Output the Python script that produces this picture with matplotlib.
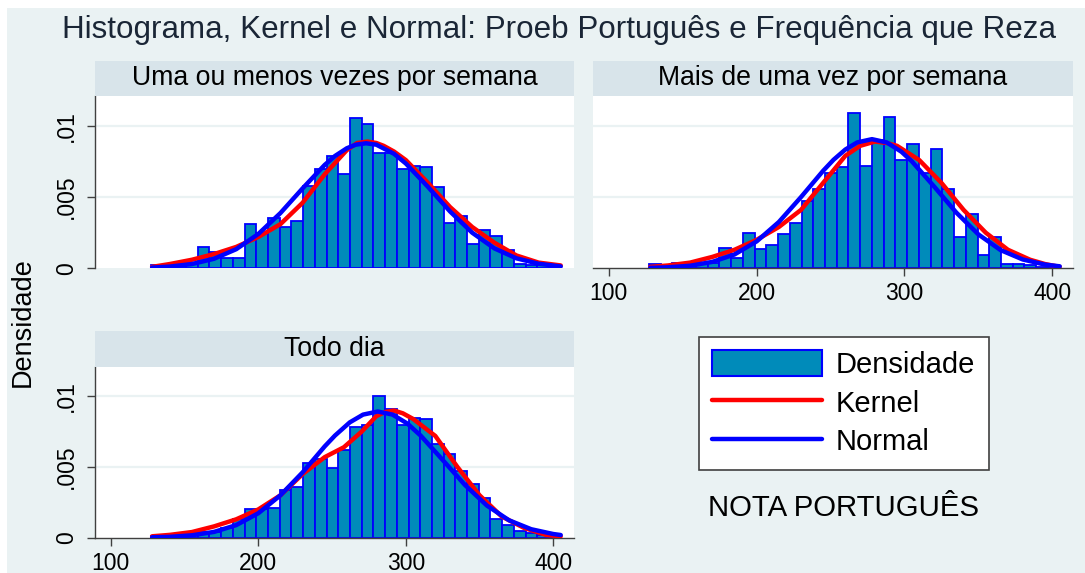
import numpy as np
import matplotlib
matplotlib.use("Agg")
import matplotlib.pyplot as plt
from matplotlib.patches import Patch, Rectangle
from matplotlib.lines import Line2D

plt.rcParams["font.family"] = ["Liberation Sans", "DejaVu Sans"]

# histogram: 35 bins spanning the data range
bin_lo, bin_hi = 127.2, 405.0

dens_uma = [0.0002, 0.0003, 0.0003, 0.0004, 0.00152, 0.00117, 0.00075, 0.00075,
            0.0031, 0.00246, 0.0035, 0.0029, 0.0033, 0.0058, 0.0070, 0.0079,
            0.0066, 0.01054, 0.0101, 0.0081, 0.0081, 0.0070, 0.0072, 0.0071,
            0.0057, 0.0032, 0.0037, 0.0017, 0.0027, 0.0023, 0.0013, 0.0003,
            0.0002, 0.0002, 0.0001]
dens_mais = [0.0003, 0.0001, 0.0004, 0.0003, 0.0003, 0.0004, 0.00144, 0.0007,
             0.00247, 0.00136, 0.00165, 0.00242, 0.0032, 0.0047, 0.0056, 0.0067,
             0.0071, 0.0109, 0.0072, 0.0090, 0.01066, 0.0076, 0.0087, 0.0067,
             0.0084, 0.0056, 0.0022, 0.0038, 0.0009, 0.0022, 0.0003, 0.0003,
             0.0002, 0.0001, 0.0001]
dens_todo = [0.0001, 0.0002, 0.0002, 0.0003, 0.0004, 0.0004, 0.0007, 0.0013,
             0.0020, 0.0020, 0.0021, 0.0034, 0.0036, 0.0053, 0.0056, 0.0049,
             0.0062, 0.0078, 0.0080, 0.0100, 0.0091, 0.0080, 0.0085, 0.0084,
             0.0066, 0.0059, 0.0047, 0.0038, 0.0028, 0.0013, 0.0009, 0.0005,
             0.0003, 0.0002, 0.0001]

# kernel and normal curves
kx_uma = [128, 140, 155, 170, 185, 200, 215, 230, 245, 260, 267, 274, 280, 285, 292, 300,
          315, 330, 345, 360, 375, 390, 405]
ky_uma = [0.0001, 0.0003, 0.0006, 0.0010, 0.0015, 0.0022, 0.0031, 0.0046, 0.0066, 0.0083,
          0.0088, 0.0089, 0.0088, 0.0086, 0.0082, 0.0076, 0.0060, 0.0043, 0.0029, 0.0018,
          0.0009, 0.0004, 0.0002]
nx_uma = [128, 140, 155, 170, 185, 200, 215, 230, 245, 252, 260, 266, 273, 280, 292, 300,
          315, 330, 345, 360, 375, 390, 405]
ny_uma = [0.00005, 0.00012, 0.0003, 0.00067, 0.00134, 0.00241, 0.00388, 0.00561, 0.00726,
          0.00789, 0.00843, 0.00868, 0.00878, 0.00868, 0.00804, 0.00736, 0.00572, 0.00399,
          0.0025, 0.0014, 0.0007, 0.00032, 0.00013]

kx_mais = [128, 140, 155, 170, 185, 200, 215, 230, 245, 260, 270, 280, 288, 295, 310, 325,
           340, 355, 370, 385, 395, 405]
ky_mais = [0.0001, 0.0002, 0.0004, 0.0008, 0.0013, 0.0020, 0.0029, 0.0041, 0.0060, 0.0079,
           0.0086, 0.0089, 0.0088, 0.0086, 0.0076, 0.0060, 0.0041, 0.0025, 0.0013, 0.0006,
           0.0003, 0.0001]
nx_mais = [128, 140, 155, 170, 185, 200, 215, 230, 245, 252, 260, 268, 278, 288, 298, 305,
           320, 335, 350, 365, 380, 395, 405]
ny_mais = [0.00003, 0.00007, 0.00018, 0.00045, 0.00097, 0.00189, 0.00325, 0.005, 0.00685,
           0.00762, 0.00834, 0.00884, 0.00907, 0.00884, 0.00818, 0.00751, 0.00575, 0.00392,
           0.00238, 0.00128, 0.00062, 0.00026, 0.00014]

kx_todo = [128, 140, 155, 170, 185, 200, 215, 230, 245, 258, 270, 280, 286, 292, 298, 305,
           320, 335, 350, 365, 380, 395, 405]
ky_todo = [0.0001, 0.0002, 0.0004, 0.0008, 0.0013, 0.0020, 0.0030, 0.0045, 0.0057, 0.0064,
           0.0075, 0.0086, 0.0089, 0.0090, 0.0088, 0.0084, 0.0072, 0.0050, 0.0030, 0.0015,
           0.0007, 0.0002, 0.0001]
nx_todo = [128, 140, 155, 170, 185, 200, 215, 230, 245, 252, 262, 271, 281, 291, 301, 310,
           325, 340, 355, 370, 385, 400, 405]
ny_todo = [0.00003, 0.00006, 0.00017, 0.00041, 0.00089, 0.00173, 0.003, 0.00462, 0.00646,
           0.00723, 0.00816, 0.00871, 0.00893, 0.00871, 0.00808, 0.00723, 0.0055, 0.00374,
           0.00227, 0.00123, 0.0006, 0.00026, 0.00019]

panel_titles = ["Uma ou menos vezes por semana", "Mais de uma vez por semana", "Todo dia"]
xticks = [100, 200, 300, 400]
xticklabels = ["100", "200", "300", "400"]
yticks = [0, 0.005, 0.01]
yticklabels = ["0", ".005", ".01"]

BG = "#eaf2f3"
STRIP = "#d8e4ea"
BAR = "#008bba"
W, H = 1085, 573


def px_rect(x0, y0, x1, y1):
    return [x0 / W, 1 - y1 / H, (x1 - x0) / W, (y1 - y0) / H]


fig = plt.figure(figsize=(W / 100, H / 100), dpi=100, facecolor="white")
fig.patches.append(Rectangle((7 / W, 0), 1 - 7 / W, 1 - 8 / H, transform=fig.transFigure,
                             facecolor=BG, edgecolor="none", zorder=-10))

panels = [
    (dens_uma, kx_uma, ky_uma, nx_uma, ny_uma, (95, 96, 574, 268.3), True, False),
    (dens_mais, kx_mais, ky_mais, nx_mais, ny_mais, (593, 96, 1073, 268.3), False, True),
    (dens_todo, kx_todo, ky_todo, nx_todo, ny_todo, (95, 366.7, 574, 537.7), True, True),
]

for i, (dens, kx, ky, nx, ny, box, show_y, show_x) in enumerate(panels):
    x0, y0, x1, y1 = box
    ax = fig.add_axes(px_rect(x0, y0, x1, y1))
    ax.set_facecolor("white")
    edges = np.linspace(bin_lo, bin_hi, len(dens) + 1)
    ax.bar(edges[:-1], dens, width=np.diff(edges), align="edge", color=BAR,
           edgecolor="#0000ff", linewidth=1.3, zorder=2)
    ax.plot(kx, ky, color="#ff0000", lw=3.2, solid_capstyle="round", solid_joinstyle="round", zorder=3)
    ax.plot(nx, ny, color="#0000ff", lw=3.2, solid_capstyle="round", solid_joinstyle="round", zorder=4)
    ax.set_xlim(89.3, 414)
    ax.set_ylim(0, 0.0121)
    for yv in yticks[1:]:
        ax.axhline(yv, color=BG, lw=1.6, zorder=1)
    for s in ["top", "right"]:
        ax.spines[s].set_visible(False)
    ax.spines["left"].set_visible(show_y)
    ax.spines["bottom"].set_visible(show_x)
    for s in ["left", "bottom"]:
        ax.spines[s].set_color("#404040")
        ax.spines[s].set_linewidth(1.0)
    if show_y:
        ax.set_yticks(yticks)
        ax.set_yticklabels(yticklabels, rotation=90, va="center", fontsize=16.5)
        ax.tick_params(axis="y", length=6, width=1, color="#404040", pad=6)
    else:
        ax.set_yticks([])
    if show_x:
        ax.set_xticks(xticks)
        ax.set_xticklabels(xticklabels, fontsize=16.5)
        ax.tick_params(axis="x", length=6, width=1, color="#404040", pad=4)
    else:
        ax.set_xticks([])

    # strip with the group name
    sax = fig.add_axes(px_rect(x0, y0 - 35.3, x1, y0))
    sax.set_facecolor(STRIP)
    sax.set_xticks([])
    sax.set_yticks([])
    for s in sax.spines.values():
        s.set_visible(False)
    sax.text(0.5, 0.5, panel_titles[i], ha="center", va="center", fontsize=19.2, color="black",
             transform=sax.transAxes)

fig.text(559 / W, 1 - 30 / H, "Histograma, Kernel e Normal: Proeb Português e Frequência que Reza",
         ha="center", va="center", fontsize=22.6, color="#1a2636")
fig.text(23 / W, 1 - 322 / H, "Densidade", rotation=90, ha="center", va="center", fontsize=19.5)
fig.text(843 / W, 1 - 508 / H, "NOTA PORTUGUÊS", ha="center", va="center", fontsize=21.2)

handles = [Patch(facecolor=BAR, edgecolor="#0000ff", linewidth=1.5),
           Line2D([], [], color="#ff0000", lw=3.2, solid_capstyle="round"),
           Line2D([], [], color="#0000ff", lw=3.2, solid_capstyle="round")]
leg = fig.legend(handles, ["Densidade", "Kernel", "Normal"], loc="upper left",
                 bbox_to_anchor=(699 / W, 1 - 337 / H), borderaxespad=0, fontsize=21,
                 frameon=True, fancybox=False, edgecolor="#404040", framealpha=1,
                 handlelength=3.75, handleheight=1.0, labelspacing=0.33, handletextpad=0.5,
                 borderpad=0.45)
leg.get_frame().set_linewidth(1.2)

fig.savefig("out.png", dpi=100, facecolor=fig.get_facecolor())
